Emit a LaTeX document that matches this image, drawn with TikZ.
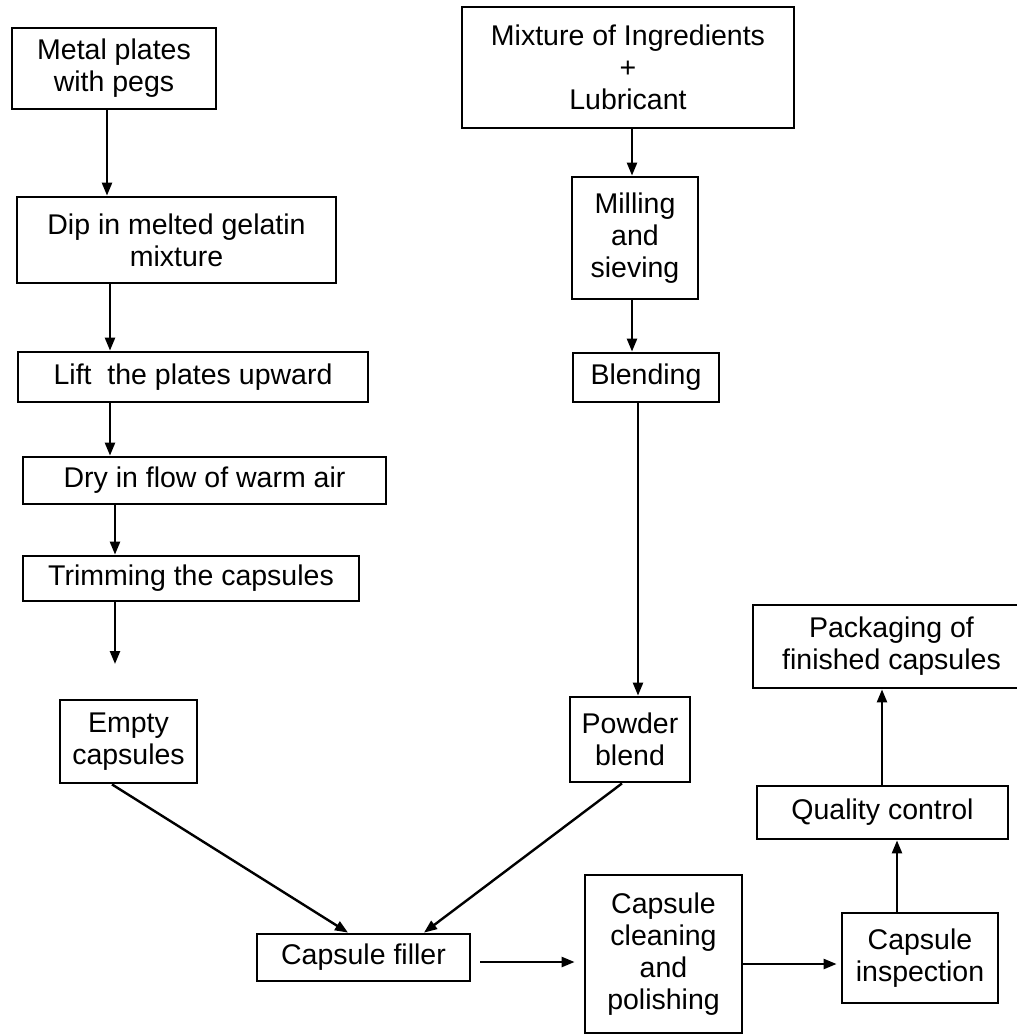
\documentclass[tikz,border=0pt]{standalone}
\usepackage{fontspec}
\setmainfont{Liberation Sans}
\usetikzlibrary{arrows.meta}
\begin{document}
\begin{tikzpicture}[x=1pt,y=1pt,
  box/.style={draw, line width=2.8pt, inner sep=0pt, align=center,
              font=\fontsize{28.5}{32}\selectfont},
  arr/.style={line width=2.4pt, -{Triangle[length=13pt,width=10pt]}}]
\useasboundingbox (0,0) rectangle (1017,-1034);
\clip (0,0) rectangle (1017,-1034);
\fill[white] (0,0) rectangle (1017,-1034);

% column coordinates
\coordinate (c1) at (107,0);
\coordinate (c2) at (110,0);
\coordinate (c3) at (115,0);
\coordinate (c4) at (632,0);
\coordinate (c5) at (638,0);
\coordinate (c6) at (897,0);
\coordinate (c7) at (882,0);

% left column
\node[box, minimum width=204pt, minimum height=81pt] (metal) at (114,-68.5) {Metal plates\\with pegs};
\node[box, minimum width=319pt, minimum height=86pt] (dip) at (176.5,-240) {Dip in melted gelatin\\mixture};
\node[box, minimum width=350pt, minimum height=50pt] (lift) at (193,-377) {Lift~ the plates upward};
\node[box, minimum width=363pt, minimum height=47pt] (dry) at (204.5,-480.5) {Dry in flow of warm air};
\node[box, minimum width=336pt, minimum height=45pt] (trim) at (191,-578.5) {Trimming the capsules};
\coordinate (trimend) at (115,-664);
\node[box, minimum width=137pt, minimum height=83pt] (empty) at (128.5,-741.5) {Empty\\capsules};

% right column
\node[box, minimum width=332pt, minimum height=121pt] (mix) at (628,-67.5) {Mixture of Ingredients\\+\\Lubricant};
\node[box, minimum width=126pt, minimum height=122pt] (mill) at (635,-238) {Milling\\and\\sieving};
\node[box, minimum width=146pt, minimum height=49pt] (blend) at (646,-377.5) {Blending};
\node[box, minimum width=120pt, minimum height=85pt] (powder) at (630,-739.5) {Powder\\blend};

% bottom row
\node[box, minimum width=213pt, minimum height=47pt] (filler) at (363.5,-957.5) {Capsule filler};
\node[box, minimum width=157pt, minimum height=158pt] (clean) at (663.5,-954) {Capsule\\cleaning\\and\\polishing};
\node[box, minimum width=156pt, minimum height=90pt] (insp) at (920,-958) {Capsule\\inspection};
\node[box, minimum width=251pt, minimum height=53pt] (qc) at (882.5,-812.5) {Quality control};
\node[box, minimum width=277pt, minimum height=83pt] (pack) at (891.5,-646.5) {Packaging of\\finished capsules};

% connectors left
\draw[arr] (metal.south -| c1) -- (dip.north -| c1);
\draw[arr] (dip.south -| c2) -- (lift.north -| c2);
\draw[arr] (lift.south -| c2) -- (dry.north -| c2);
\draw[arr] (dry.south -| c3) -- (trim.north -| c3);
\draw[arr] (trim.south -| c3) -- (trimend);

% connectors right
\draw[arr] (mix.south -| c4) -- (mill.north -| c4);
\draw[arr] (mill.south -| c4) -- (blend.north -| c4);
\draw[arr] (blend.south -| c5) -- (powder.north -| c5);

% diagonals
\draw[arr] ([xshift=-16.5pt]empty.south) -- ([xshift=-15.5pt]filler.north);
\draw[arr] ([xshift=-8pt]powder.south) -- ([xshift=60.5pt]filler.north);

% bottom flow
\draw[arr, shorten <=9pt, shorten >=9pt] ([yshift=-4.5pt]filler.east) -- ([yshift=-4.5pt]filler.east -| clean.west);
\draw[arr, shorten >=4pt] ([yshift=-10pt]clean.east) -- ([yshift=-10pt]clean.east -| insp.west);
\draw[arr] (insp.north -| c6) -- (qc.south -| c6);
\draw[arr] (qc.north -| c7) -- (pack.south -| c7);
\end{tikzpicture}
\end{document}
